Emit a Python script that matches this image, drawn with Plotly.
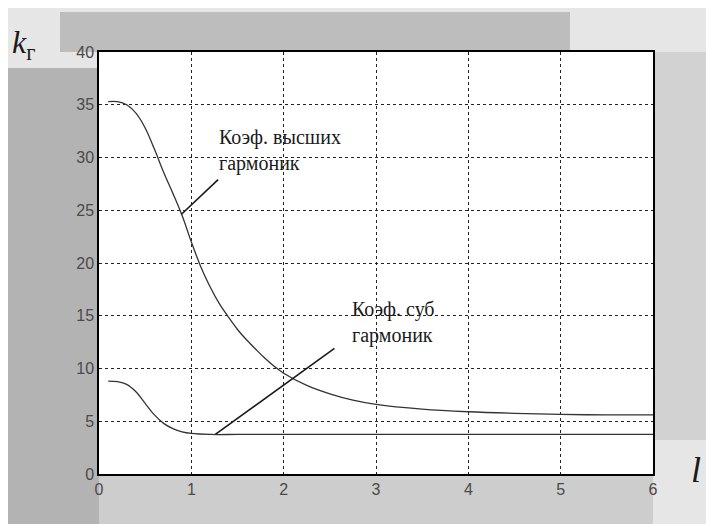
import plotly.graph_objects as go

# Data
x_high = [0.1, 0.2, 0.3, 0.4, 0.5, 0.6, 0.7, 0.8, 0.9, 1.0, 1.1, 1.2, 1.3, 1.4, 1.5, 1.6, 1.7, 1.8, 1.9, 2.0,
          2.25, 2.5, 2.75, 3.0, 3.5, 4.0, 4.5, 5.0, 5.5, 6.0]
y_high = [35.3, 35.3, 35.0, 34.2, 32.8, 30.8, 28.6, 26.6, 24.5, 22.0, 19.7, 17.8, 16.2, 14.9, 13.7, 12.7, 11.8, 10.95, 10.2, 9.55,
          8.4, 7.6, 7.0, 6.6, 6.15, 5.9, 5.75, 5.65, 5.6, 5.6]

x_sub = [0.1, 0.2, 0.3, 0.4, 0.5, 0.6, 0.7, 0.8, 0.9, 1.0, 1.2, 1.5, 2.0, 3.0, 4.0, 5.0, 6.0]
y_sub = [8.8, 8.75, 8.5, 7.8, 6.7, 5.6, 4.8, 4.3, 4.0, 3.85, 3.75, 3.75, 3.75, 3.75, 3.75, 3.75, 3.75]

x_ticks = [0, 1, 2, 3, 4, 5, 6]
y_ticks = [0, 5, 10, 15, 20, 25, 30, 35, 40]

label_high = "Коэф. высших<br>гармоник"
label_sub = "Коэф. суб<br>гармоник"
pointer_high_x = [1.29, 0.89]
pointer_high_y = [27.9, 24.6]
pointer_sub_x = [2.55, 1.26]
pointer_sub_y = [11.9, 3.75]

SERIF = "'Liberation Serif', 'DejaVu Serif', serif"

# Plot geometry in page pixels (page body has an 8px margin)
PL, PR, PT, PB = 99, 653, 52, 474
W = PR - PL
H = PB - PT


def px(x):
    return (x - PL) / W


def py(y):
    return (PB - y) / H


fig = go.Figure()
fig.add_trace(go.Scatter(x=x_high, y=y_high, mode="lines",
                         line=dict(color="#333333", width=1.3, shape="spline"), showlegend=False))
fig.add_trace(go.Scatter(x=x_sub, y=y_sub, mode="lines",
                         line=dict(color="#333333", width=1.3, shape="spline"), showlegend=False))
fig.add_trace(go.Scatter(x=pointer_high_x, y=pointer_high_y, mode="lines",
                         line=dict(color="#1a1a1a", width=1.6), showlegend=False))
fig.add_trace(go.Scatter(x=pointer_sub_x, y=pointer_sub_y, mode="lines",
                         line=dict(color="#1a1a1a", width=1.6), showlegend=False))

shapes = [
    dict(type="rect", xref="paper", yref="paper", x0=px(8), x1=0, y0=py(524), y1=py(68),
         fillcolor="#b3b3b3", line=dict(width=0), layer="below"),
    dict(type="rect", xref="paper", yref="paper", x0=px(60), x1=px(570), y0=1, y1=py(12),
         fillcolor="#bdbdbd", line=dict(width=0), layer="below"),
    dict(type="rect", xref="paper", yref="paper", x0=0, x1=1, y0=py(524), y1=0,
         fillcolor="#cdcdcd", line=dict(width=0), layer="below"),
    dict(type="rect", xref="paper", yref="paper", x0=1, x1=px(714), y0=py(440), y1=1,
         fillcolor="#d2d2d2", line=dict(width=0), layer="below"),
]

fig.update_layout(
    width=706, height=516,
    margin=dict(l=PL - 8, r=714 - PR, t=PT - 8, b=524 - PB),
    paper_bgcolor="#e6e6e6",
    plot_bgcolor="white",
    shapes=shapes,
    font=dict(family="'Liberation Sans', Arial, sans-serif", size=16, color="#4a4a4a"),
    xaxis=dict(range=[0, 6], tickvals=x_ticks, showgrid=True, gridcolor="#222222", gridwidth=1, griddash="3px,3px",
               zeroline=False, showline=True, linecolor="black", linewidth=1.5, mirror=True, ticks="",
               fixedrange=True),
    yaxis=dict(range=[0, 40], tickvals=y_ticks, showgrid=True, gridcolor="#222222", gridwidth=1, griddash="3px,3px",
               zeroline=False, showline=True, linecolor="black", linewidth=1.5, mirror=True, ticks="",
               fixedrange=True),
    annotations=[
        dict(x=1.28, y=33.2, xref="x", yref="y", text=label_high, showarrow=False, xanchor="left", yanchor="top",
             align="left", font=dict(family=SERIF, size=20, color="#1a1a1a")),
        dict(x=2.72, y=16.9, xref="x", yref="y", text=label_sub, showarrow=False, xanchor="left", yanchor="top",
             align="left", font=dict(family=SERIF, size=20, color="#1a1a1a")),
        dict(x=px(10), y=py(44), xref="paper", yref="paper", text="<i>k</i><sub>г</sub>", showarrow=False,
             xanchor="left", yanchor="middle", font=dict(family=SERIF, size=32, color="#1a1a1a")),
        dict(x=px(696), y=py(470), xref="paper", yref="paper", text="<i>l</i>", showarrow=False,
             xanchor="center", yanchor="middle", font=dict(family=SERIF, size=36, color="#1a1a1a")),
    ],
)

fig.write_html("out.html")
